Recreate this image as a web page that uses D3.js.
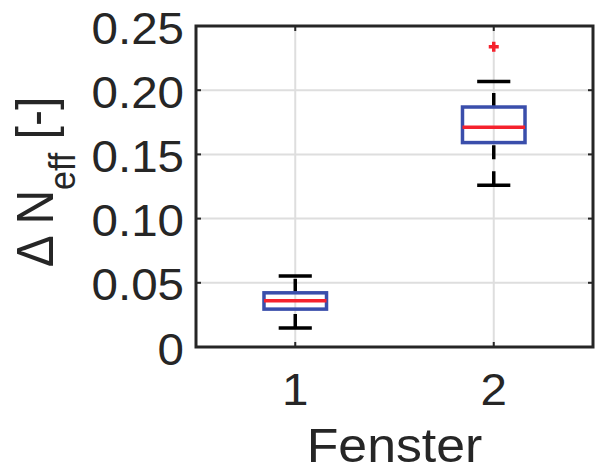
<!DOCTYPE html>
<html>
<head>
<meta charset="utf-8">
<script src="https://cdn.jsdelivr.net/npm/d3@7"></script>
<style>
  body { margin: 0; background: #fff; }
  text { font-family: "Liberation Sans", Arial, sans-serif; fill: #262626; }
</style>
</head>
<body>
<div id="chart"></div>
<script>
// box plot values
const categories = ['1', '2'];
const lowerWhisker = [0.0148, 0.126];
const q1 = [0.0295, 0.1592];
const medians = [0.036, 0.1711];
const q3 = [0.0422, 0.1869];
const upperWhisker = [0.0552, 0.2068];
const outliers = [[], [0.2338]];
const yTicks = [0, 0.05, 0.10, 0.15, 0.20, 0.25];
const yTickLabels = ['0', '0.05', '0.10', '0.15', '0.20', '0.25'];

const config = {
  containerWidth: 595,
  containerHeight: 472,
  margin: { top: 26, right: 2, bottom: 125, left: 196 }
};
const width = config.containerWidth - config.margin.left - config.margin.right;
const height = config.containerHeight - config.margin.top - config.margin.bottom;
const stretch = 1.08; // the picture is a bit wider than tall

const svg = d3.select('#chart').append('svg')
  .attr('width', config.containerWidth)
  .attr('height', config.containerHeight);

const chart = svg.append('g')
  .attr('transform', `translate(${config.margin.left},${config.margin.top})`);

const xScale = d3.scaleLinear().domain([0.5, 2.5]).range([0, width]);
const yScale = d3.scaleLinear().domain([0, 0.25]).range([height, 0]);

const boxes = categories.map((c, i) => ({
  cat: c, pos: i + 1,
  lo: lowerWhisker[i], q1: q1[i], med: medians[i], q3: q3[i], hi: upperWhisker[i],
  out: outliers[i]
}));

// grid
chart.selectAll('.hgrid').data(yTicks).join('line')
  .attr('x1', 0).attr('x2', width)
  .attr('y1', d => yScale(d)).attr('y2', d => yScale(d))
  .attr('stroke', '#dedede').attr('stroke-width', 2);
chart.selectAll('.vgrid').data(boxes).join('line')
  .attr('x1', d => xScale(d.pos)).attr('x2', d => xScale(d.pos))
  .attr('y1', 0).attr('y2', height)
  .attr('stroke', '#dedede').attr('stroke-width', 2);

// ticks inside the box, on all four sides
const tickLen = 5;
yTicks.forEach(t => {
  const y = yScale(t);
  chart.append('line').attr('x1', 0).attr('x2', tickLen).attr('y1', y).attr('y2', y)
    .attr('stroke', '#262626').attr('stroke-width', 2);
  chart.append('line').attr('x1', width - tickLen).attr('x2', width).attr('y1', y).attr('y2', y)
    .attr('stroke', '#262626').attr('stroke-width', 2);
});
boxes.forEach(b => {
  const x = xScale(b.pos);
  chart.append('line').attr('x1', x).attr('x2', x).attr('y1', height).attr('y2', height - tickLen)
    .attr('stroke', '#262626').attr('stroke-width', 2);
  chart.append('line').attr('x1', x).attr('x2', x).attr('y1', 0).attr('y2', tickLen)
    .attr('stroke', '#262626').attr('stroke-width', 2);
});

// boxes
const boxW = xScale(0.5 + 0.315) - xScale(0.5);
const capW = boxW * 0.53;
const g = chart.selectAll('.box').data(boxes).join('g').attr('class', 'box');

// whiskers, drawn from low to high value so the dash pattern starts at the bottom
g.append('line')
  .attr('x1', d => xScale(d.pos)).attr('x2', d => xScale(d.pos))
  .attr('y1', d => yScale(d.lo)).attr('y2', d => yScale(d.q1))
  .attr('stroke', '#000').attr('stroke-width', 3.5).attr('stroke-dasharray', '14,12');
g.append('line')
  .attr('x1', d => xScale(d.pos)).attr('x2', d => xScale(d.pos))
  .attr('y1', d => yScale(d.q3)).attr('y2', d => yScale(d.hi))
  .attr('stroke', '#000').attr('stroke-width', 3.5).attr('stroke-dasharray', '14,12');
// caps
['lo', 'hi'].forEach(k => {
  g.append('line')
    .attr('x1', d => xScale(d.pos) - capW / 2).attr('x2', d => xScale(d.pos) + capW / 2)
    .attr('y1', d => yScale(d[k])).attr('y2', d => yScale(d[k]))
    .attr('stroke', '#000').attr('stroke-width', 3.5);
});
g.append('rect')
  .attr('x', d => xScale(d.pos) - boxW / 2)
  .attr('y', d => yScale(d.q3))
  .attr('width', boxW)
  .attr('height', d => yScale(d.q1) - yScale(d.q3))
  .attr('fill', 'none').attr('stroke', '#3a4eab').attr('stroke-width', 3.5);
g.append('line')
  .attr('x1', d => xScale(d.pos) - boxW / 2).attr('x2', d => xScale(d.pos) + boxW / 2)
  .attr('y1', d => yScale(d.med)).attr('y2', d => yScale(d.med))
  .attr('stroke', '#f5222d').attr('stroke-width', 3.5);

// outliers as red plus signs
const outData = boxes.flatMap(b => b.out.map(v => ({ pos: b.pos, v })));
chart.selectAll('.outlier').data(outData).join('path')
  .attr('d', d => {
    const x = xScale(d.pos), y = yScale(d.v), s = 5;
    return `M${x - s},${y}H${x + s}M${x},${y - s}V${y + s}`;
  })
  .attr('stroke', '#f5222d').attr('stroke-width', 3.5).attr('fill', 'none');

// axis frame
chart.append('rect')
  .attr('width', width).attr('height', height)
  .attr('fill', 'none').attr('stroke', '#262626').attr('stroke-width', 3);

// tick labels
chart.selectAll('.ylab').data(yTicks).join('text')
  .attr('transform', d => `translate(-12,${yScale(d) + 17.5}) scale(${stretch},1)`)
  .attr('text-anchor', 'end')
  .style('font-size', '44px')
  .text((d, i) => yTickLabels[i]);
chart.selectAll('.xlab').data(boxes).join('text')
  .attr('transform', d => `translate(${xScale(d.pos)},${height + 58}) scale(${stretch},1)`)
  .attr('text-anchor', 'middle')
  .style('font-size', '44px')
  .text(d => d.cat);

// axis labels
chart.append('text')
  .attr('transform', `translate(${width / 2},${height + 115}) scale(${stretch},1)`)
  .attr('text-anchor', 'middle')
  .style('font-size', '48px')
  .text('Fenster');

const yl = svg.append('text')
  .attr('transform', `translate(53,182) scale(${stretch},1) rotate(-90)`)
  .attr('text-anchor', 'middle')
  .style('font-size', '48px');
yl.append('tspan').text('\u0394 N');
yl.append('tspan').attr('dy', 20).style('font-size', '34px').text('eff');
yl.append('tspan').attr('dy', -20).text(' [-]');
</script>
</body>
</html>
